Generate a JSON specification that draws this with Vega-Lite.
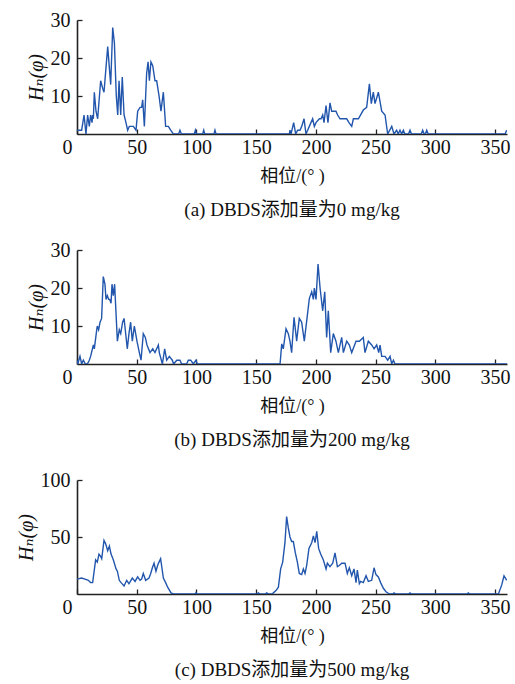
{
  "$schema": "https://vega.github.io/schema/vega-lite/v6.json",
  "padding": {"left": 16, "top": 10, "right": 5, "bottom": 5},
  "spacing": 20,
  "datasets": {
    "p1": [
      {"phase": 0, "H": 1}, {"phase": 3.9, "H": 1}, {"phase": 5.9, "H": 5}, {"phase": 7.5, "H": 0}, {"phase": 8.9, "H": 5},
      {"phase": 10.3, "H": 2}, {"phase": 11.4, "H": 5}, {"phase": 12.6, "H": 3}, {"phase": 13.1, "H": 5}, {"phase": 13.7, "H": 4},
      {"phase": 14.5, "H": 11}, {"phase": 15.9, "H": 6}, {"phase": 17.3, "H": 4}, {"phase": 19.8, "H": 14}, {"phase": 21.5, "H": 12},
      {"phase": 22.6, "H": 11}, {"phase": 25.7, "H": 23}, {"phase": 28.2, "H": 13}, {"phase": 29.9, "H": 28}, {"phase": 31.3, "H": 24},
      {"phase": 32.9, "H": 10}, {"phase": 34.1, "H": 5}, {"phase": 35.2, "H": 14}, {"phase": 36.6, "H": 5}, {"phase": 37.9, "H": 15},
      {"phase": 39.4, "H": 5}, {"phase": 41.0, "H": 3}, {"phase": 42.4, "H": 1}, {"phase": 43.8, "H": 2}, {"phase": 47.2, "H": 2},
      {"phase": 49.4, "H": 1}, {"phase": 50.8, "H": 6}, {"phase": 52.8, "H": 7}, {"phase": 54.1, "H": 7}, {"phase": 55.0, "H": 9},
      {"phase": 56.4, "H": 2}, {"phase": 58.3, "H": 16}, {"phase": 59.5, "H": 19}, {"phase": 60.6, "H": 14}, {"phase": 61.9, "H": 19},
      {"phase": 63.4, "H": 18}, {"phase": 65.3, "H": 14}, {"phase": 66.7, "H": 14}, {"phase": 68.7, "H": 10}, {"phase": 70.3, "H": 6},
      {"phase": 72.3, "H": 11}, {"phase": 74.2, "H": 2}, {"phase": 76.5, "H": 2}, {"phase": 78.4, "H": 1}, {"phase": 80.7, "H": 0},
      {"phase": 85.1, "H": 0}, {"phase": 86.2, "H": 1}, {"phase": 87.4, "H": 0}, {"phase": 98.2, "H": 0}, {"phase": 99.1, "H": 1},
      {"phase": 99.9, "H": 0}, {"phase": 105.2, "H": 0}, {"phase": 106.1, "H": 1}, {"phase": 106.9, "H": 0}, {"phase": 114.7, "H": 0},
      {"phase": 115.5, "H": 1}, {"phase": 116.4, "H": 0}, {"phase": 177.8, "H": 0}, {"phase": 178.3, "H": 1}, {"phase": 179.2, "H": 0},
      {"phase": 181.4, "H": 3}, {"phase": 183.1, "H": 0}, {"phase": 184.7, "H": 1}, {"phase": 186.7, "H": 1}, {"phase": 188.1, "H": 2},
      {"phase": 190.1, "H": 4}, {"phase": 191.7, "H": 0}, {"phase": 193.1, "H": 1}, {"phase": 194.5, "H": 2}, {"phase": 197.3, "H": 4},
      {"phase": 198.7, "H": 2}, {"phase": 200.1, "H": 3}, {"phase": 202.9, "H": 4}, {"phase": 204.3, "H": 4}, {"phase": 205.7, "H": 5},
      {"phase": 206.8, "H": 3}, {"phase": 208.5, "H": 7.5}, {"phase": 210.1, "H": 3}, {"phase": 211.8, "H": 8.2}, {"phase": 213.2, "H": 6},
      {"phase": 216.8, "H": 6}, {"phase": 218.2, "H": 5}, {"phase": 220.2, "H": 4}, {"phase": 223.0, "H": 4}, {"phase": 225.8, "H": 4},
      {"phase": 227.7, "H": 3}, {"phase": 230.0, "H": 2}, {"phase": 231.4, "H": 4}, {"phase": 233.6, "H": 4}, {"phase": 235.6, "H": 4},
      {"phase": 239.7, "H": 6.3}, {"phase": 242.5, "H": 7}, {"phase": 244.8, "H": 13.2}, {"phase": 246.4, "H": 8}, {"phase": 248.1, "H": 11},
      {"phase": 249.5, "H": 8}, {"phase": 252.3, "H": 11}, {"phase": 255.1, "H": 6}, {"phase": 257.9, "H": 5}, {"phase": 260.1, "H": 0},
      {"phase": 263.5, "H": 2}, {"phase": 265.4, "H": 0}, {"phase": 267.6, "H": 1}, {"phase": 268.9, "H": 0}, {"phase": 270.4, "H": 1},
      {"phase": 271.8, "H": 0}, {"phase": 273.2, "H": 1}, {"phase": 274.5, "H": 0}, {"phase": 277.5, "H": 0}, {"phase": 278.8, "H": 1},
      {"phase": 280.0, "H": 0}, {"phase": 288.2, "H": 0}, {"phase": 289.4, "H": 1}, {"phase": 290.6, "H": 0}, {"phase": 291.6, "H": 0},
      {"phase": 292.8, "H": 1}, {"phase": 294.0, "H": 0}, {"phase": 358.4, "H": 0}, {"phase": 359.7, "H": 1}
    ],
    "p2": [
      {"phase": 0, "H": 1}, {"phase": 0.6, "H": 0}, {"phase": 2.5, "H": 2}, {"phase": 3.9, "H": 0}, {"phase": 5.3, "H": 1},
      {"phase": 7.0, "H": 0}, {"phase": 8.7, "H": 0}, {"phase": 10.3, "H": 1}, {"phase": 11.4, "H": 2}, {"phase": 13.7, "H": 5},
      {"phase": 14.5, "H": 4}, {"phase": 16.5, "H": 9}, {"phase": 17.0, "H": 10}, {"phase": 18.1, "H": 9}, {"phase": 19.3, "H": 11},
      {"phase": 20.6, "H": 12}, {"phase": 22.0, "H": 23}, {"phase": 23.4, "H": 21}, {"phase": 24.3, "H": 17}, {"phase": 25.4, "H": 18},
      {"phase": 26.5, "H": 17}, {"phase": 27.4, "H": 17}, {"phase": 28.5, "H": 16}, {"phase": 29.3, "H": 21}, {"phase": 30.4, "H": 18},
      {"phase": 31.5, "H": 21}, {"phase": 33.8, "H": 6}, {"phase": 35.4, "H": 9}, {"phase": 36.6, "H": 8}, {"phase": 38.2, "H": 11},
      {"phase": 39.4, "H": 12}, {"phase": 42.1, "H": 4}, {"phase": 43.5, "H": 8}, {"phase": 44.9, "H": 11}, {"phase": 46.3, "H": 6},
      {"phase": 48.0, "H": 10}, {"phase": 50.2, "H": 6}, {"phase": 52.2, "H": 3}, {"phase": 53.6, "H": 1}, {"phase": 55.5, "H": 8},
      {"phase": 57.2, "H": 7}, {"phase": 58.6, "H": 5}, {"phase": 61.1, "H": 3}, {"phase": 63.4, "H": 4}, {"phase": 65.3, "H": 3},
      {"phase": 68.1, "H": 5}, {"phase": 68.9, "H": 3}, {"phase": 71.5, "H": 0}, {"phase": 73.4, "H": 4}, {"phase": 75.1, "H": 1},
      {"phase": 77.3, "H": 2}, {"phase": 79.8, "H": 1}, {"phase": 80.9, "H": 0}, {"phase": 83.5, "H": 1}, {"phase": 86.2, "H": 1},
      {"phase": 87.6, "H": 0}, {"phase": 91.8, "H": 0}, {"phase": 93.2, "H": 1}, {"phase": 95.2, "H": 1}, {"phase": 97.4, "H": 0},
      {"phase": 99.6, "H": 1}, {"phase": 100.7, "H": 0}, {"phase": 170.0, "H": 0}, {"phase": 171.4, "H": 5.3}, {"phase": 172.7, "H": 4},
      {"phase": 175.0, "H": 9.3}, {"phase": 176.9, "H": 8}, {"phase": 178.3, "H": 6}, {"phase": 179.7, "H": 3}, {"phase": 181.7, "H": 12.3},
      {"phase": 183.9, "H": 6}, {"phase": 186.1, "H": 12}, {"phase": 188.1, "H": 11}, {"phase": 190.3, "H": 6}, {"phase": 194.5, "H": 17.2},
      {"phase": 196.5, "H": 19}, {"phase": 197.9, "H": 17}, {"phase": 198.7, "H": 20}, {"phase": 200.1, "H": 17}, {"phase": 201.8, "H": 26.3},
      {"phase": 203.5, "H": 20}, {"phase": 205.7, "H": 14}, {"phase": 207.4, "H": 19}, {"phase": 209.0, "H": 7}, {"phase": 210.4, "H": 14},
      {"phase": 212.4, "H": 3}, {"phase": 214.6, "H": 8}, {"phase": 216.8, "H": 6}, {"phase": 218.8, "H": 3}, {"phase": 221.6, "H": 7},
      {"phase": 223.0, "H": 3}, {"phase": 225.8, "H": 6}, {"phase": 228.0, "H": 5}, {"phase": 230.0, "H": 3}, {"phase": 233.6, "H": 6},
      {"phase": 236.4, "H": 6}, {"phase": 239.7, "H": 7}, {"phase": 241.1, "H": 3}, {"phase": 243.9, "H": 6}, {"phase": 246.7, "H": 5},
      {"phase": 248.7, "H": 4}, {"phase": 250.9, "H": 5}, {"phase": 252.6, "H": 3}, {"phase": 253.7, "H": 5}, {"phase": 255.1, "H": 2},
      {"phase": 257.9, "H": 2}, {"phase": 260.1, "H": 1}, {"phase": 262.1, "H": 2}, {"phase": 263.5, "H": 0}, {"phase": 264.9, "H": 1},
      {"phase": 266.3, "H": 0}, {"phase": 360, "H": 0}
    ],
    "p3": [
      {"phase": 0, "H": 13}, {"phase": 3.9, "H": 14}, {"phase": 6.7, "H": 13}, {"phase": 9.5, "H": 12}, {"phase": 11.4, "H": 10},
      {"phase": 13.1, "H": 10}, {"phase": 15.6, "H": 30}, {"phase": 17.0, "H": 28}, {"phase": 18.4, "H": 35}, {"phase": 19.8, "H": 33},
      {"phase": 20.7, "H": 31}, {"phase": 22.6, "H": 47}, {"phase": 24.0, "H": 44}, {"phase": 25.7, "H": 38}, {"phase": 27.1, "H": 42},
      {"phase": 28.5, "H": 35}, {"phase": 30.4, "H": 30}, {"phase": 32.7, "H": 22}, {"phase": 33.8, "H": 20}, {"phase": 35.4, "H": 12},
      {"phase": 36.9, "H": 10}, {"phase": 39.4, "H": 7}, {"phase": 41.6, "H": 12}, {"phase": 43.5, "H": 9}, {"phase": 46.3, "H": 14},
      {"phase": 48.6, "H": 11}, {"phase": 50.8, "H": 15}, {"phase": 52.8, "H": 12}, {"phase": 54.1, "H": 13}, {"phase": 55.5, "H": 18},
      {"phase": 57.5, "H": 12}, {"phase": 60.3, "H": 14}, {"phase": 61.7, "H": 18}, {"phase": 63.1, "H": 23}, {"phase": 64.5, "H": 27},
      {"phase": 66.1, "H": 20}, {"phase": 67.8, "H": 26}, {"phase": 70.0, "H": 31}, {"phase": 72.3, "H": 14}, {"phase": 74.2, "H": 10},
      {"phase": 75.9, "H": 6}, {"phase": 78.7, "H": 1}, {"phase": 80.7, "H": 0}, {"phase": 98.8, "H": 0}, {"phase": 99.6, "H": 1},
      {"phase": 100.5, "H": 0}, {"phase": 150.5, "H": 0}, {"phase": 151.8, "H": 1}, {"phase": 153.2, "H": 0}, {"phase": 157.6, "H": 0},
      {"phase": 158.8, "H": 1}, {"phase": 160.5, "H": 0}, {"phase": 163.2, "H": 0}, {"phase": 164.4, "H": 1}, {"phase": 166.6, "H": 3},
      {"phase": 168.6, "H": 6}, {"phase": 170.5, "H": 22}, {"phase": 172.2, "H": 28}, {"phase": 174.1, "H": 45}, {"phase": 175.5, "H": 68},
      {"phase": 176.9, "H": 58}, {"phase": 178.3, "H": 50}, {"phase": 179.7, "H": 46}, {"phase": 181.1, "H": 46}, {"phase": 182.8, "H": 36},
      {"phase": 184.5, "H": 28}, {"phase": 186.1, "H": 18}, {"phase": 188.1, "H": 17}, {"phase": 189.5, "H": 22}, {"phase": 190.9, "H": 18},
      {"phase": 192.3, "H": 25}, {"phase": 194.2, "H": 40}, {"phase": 196.5, "H": 45}, {"phase": 197.9, "H": 51}, {"phase": 199.3, "H": 45},
      {"phase": 200.7, "H": 55}, {"phase": 202.3, "H": 40}, {"phase": 204.0, "H": 35}, {"phase": 206.2, "H": 30}, {"phase": 208.5, "H": 22},
      {"phase": 209.6, "H": 27}, {"phase": 211.8, "H": 24}, {"phase": 214.1, "H": 27}, {"phase": 216.0, "H": 36}, {"phase": 218.0, "H": 24},
      {"phase": 219.6, "H": 25}, {"phase": 221.6, "H": 27}, {"phase": 224.4, "H": 27}, {"phase": 226.3, "H": 18}, {"phase": 228.0, "H": 23},
      {"phase": 230.0, "H": 16}, {"phase": 231.9, "H": 22}, {"phase": 233.6, "H": 10}, {"phase": 234.7, "H": 21}, {"phase": 236.4, "H": 9},
      {"phase": 237.5, "H": 11}, {"phase": 239.7, "H": 10}, {"phase": 242.0, "H": 16}, {"phase": 243.9, "H": 11}, {"phase": 246.7, "H": 12},
      {"phase": 248.7, "H": 23}, {"phase": 250.3, "H": 17}, {"phase": 252.3, "H": 15}, {"phase": 254.2, "H": 10}, {"phase": 256.5, "H": 5},
      {"phase": 258.7, "H": 2}, {"phase": 261.5, "H": 0}, {"phase": 264.2, "H": 0}, {"phase": 265.4, "H": 1}, {"phase": 266.8, "H": 0},
      {"phase": 277.5, "H": 0}, {"phase": 278.8, "H": 1}, {"phase": 280.0, "H": 0}, {"phase": 326.5, "H": 0}, {"phase": 327.6, "H": 1},
      {"phase": 328.8, "H": 0}, {"phase": 352.8, "H": 0}, {"phase": 355.6, "H": 8}, {"phase": 357.5, "H": 16}, {"phase": 359.7, "H": 12}
    ]
  },
  "vconcat": [
    {
      "width": 430, "height": 114,
      "data": {"name": "p1"},
      "title": {"text": "(a)  DBDS添加量为0 mg/kg"},
      "mark": {"type": "line", "color": "#2256ad", "strokeWidth": 1.4, "clip": true},
      "encoding": {
        "x": {"field": "phase", "type": "quantitative", "scale": {"domain": [0, 360], "nice": false}, "axis": {"title": "相位/(°  )", "values": [0, 50, 100, 150, 200, 250, 300, 350]}},
        "y": {"field": "H", "type": "quantitative", "scale": {"domain": [0, 30], "nice": false}, "axis": {"title": "Hₙ(φ)", "values": [10, 20, 30]}}
      }
    },
    {
      "width": 430, "height": 114,
      "data": {"name": "p2"},
      "title": {"text": "(b)  DBDS添加量为200 mg/kg"},
      "mark": {"type": "line", "color": "#2256ad", "strokeWidth": 1.4, "clip": true},
      "encoding": {
        "x": {"field": "phase", "type": "quantitative", "scale": {"domain": [0, 360], "nice": false}, "axis": {"title": "相位/(°  )", "values": [0, 50, 100, 150, 200, 250, 300, 350]}},
        "y": {"field": "H", "type": "quantitative", "scale": {"domain": [0, 30], "nice": false}, "axis": {"title": "Hₙ(φ)", "values": [10, 20, 30]}}
      }
    },
    {
      "width": 430, "height": 114,
      "data": {"name": "p3"},
      "title": {"text": "(c)  DBDS添加量为500 mg/kg"},
      "mark": {"type": "line", "color": "#2256ad", "strokeWidth": 1.4, "clip": true},
      "encoding": {
        "x": {"field": "phase", "type": "quantitative", "scale": {"domain": [0, 360], "nice": false}, "axis": {"title": "相位/(°  )", "values": [0, 50, 100, 150, 200, 250, 300, 350]}},
        "y": {"field": "H", "type": "quantitative", "scale": {"domain": [0, 100], "nice": false}, "axis": {"title": "Hₙ(φ)", "values": [50, 100]}}
      }
    }
  ],
  "config": {
    "view": {"stroke": null},
    "font": "Liberation Serif, DejaVu Serif, Noto Sans CJK SC",
    "title": {"orient": "bottom", "anchor": "middle", "fontSize": 19, "fontWeight": "normal", "color": "#111", "font": "Liberation Serif, Noto Sans CJK SC", "offset": 16},
    "axis": {
      "grid": false,
      "domainColor": "#222",
      "domainWidth": 1.6,
      "tickColor": "#222",
      "tickWidth": 1.3,
      "tickSize": -5,
      "labelFont": "Liberation Serif",
      "labelFontSize": 20,
      "labelColor": "#111",
      "titleFont": "Liberation Serif, DejaVu Serif, Noto Sans CJK SC",
      "titleFontSize": 18,
      "titleFontWeight": "normal",
      "titleColor": "#111"
    },
    "axisX": {
      "labelPadding": 8,
      "titlePadding": 10,
      "labelOffset": {"condition": {"test": "datum.value == 0", "value": -10}, "value": 0},
      "labelFlush": false
    },
    "axisY": {
      "labelPadding": 12,
      "titlePadding": 4,
      "titleFontSize": 20,
      "titleFontStyle": "italic"
    }
  }
}
